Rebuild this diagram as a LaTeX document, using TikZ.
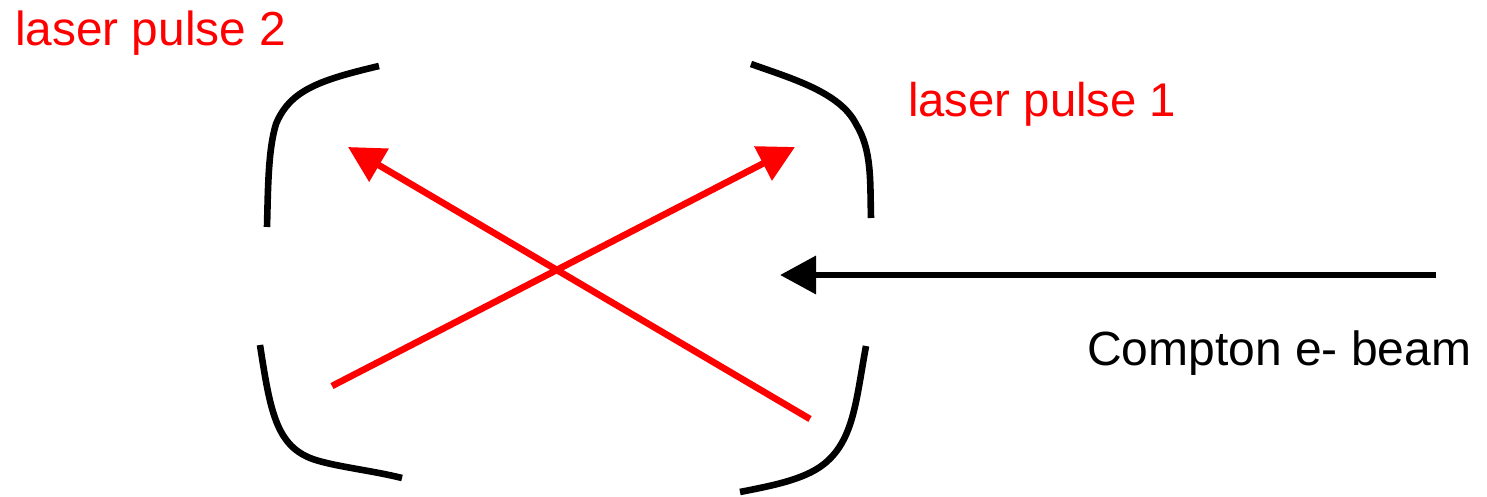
\documentclass[tikz,border=0pt]{standalone}
\usepackage{fontspec}
\setmainfont{Liberation Sans}
\usetikzlibrary{arrows.meta,calc}
\usepackage{xcolor}
\tikzset{
  mirror/.style={line width=3.3mm,black},
  pulse/.style={line width=3.3mm,red,-{Triangle[length=18mm,width=18.5mm]}},
  beam/.style={line width=3.3mm,black,-{Triangle[length=18mm,width=18.5mm]}},
  pulselabel/.style={font=\fontsize{68}{68}\selectfont,text=red,anchor=base west,inner sep=0pt},
  beamlabel/.style={font=\fontsize{68.3}{68}\selectfont,anchor=base west,inner sep=0pt}
}
\begin{document}
\begin{tikzpicture}[x=1mm,y=-1mm]
  % 1 px = 0.5 mm
  \useasboundingbox (0,0) rectangle (743.5,248);
  \node[pulselabel] (labeltwo) at (7.5,22.5){laser pulse 2};
  \node[pulselabel,font=\fontsize{67.3}{68}\selectfont] (labelone) at (454,58){laser pulse 1};
  \node[beamlabel] (labelbeam) at (543.5,182.5){Compton e- beam};
  % mirrors
  \draw[mirror] (189.5,33) .. controls (160,40) and (145,45) .. (138,62) .. controls (134,75) and (134,95) .. (133.5,113.5);
  \draw[mirror] (375.5,32) .. controls (395,39) and (420,46) .. (428,62) .. controls (436,75) and (435,90) .. (435.5,109);
  \draw[mirror] (130,172.5) .. controls (135,205) and (138,222) .. (155,229) .. controls (165,233) and (185,235) .. (201,239);
  \draw[mirror] (433,173) .. controls (428,200) and (427,220) .. (412,232) .. controls (402,240) and (385,243) .. (370,246);
  % pulses and beam
  \coordinate (pulseonestart) at (166,193);
  \coordinate (pulseoneend) at (397.5,73.5);
  \coordinate (pulsetwostart) at (405,209.5);
  \coordinate (pulsetwoend) at (174,73.5);
  \coordinate (beamstart) at (718,137.5);
  \coordinate (beamend) at (390,137.5);
  \draw[pulse] (pulseonestart) -- (pulseoneend);
  \draw[pulse] (pulsetwostart) -- (pulsetwoend);
  \draw[beam] (beamstart) -- (beamend);
\end{tikzpicture}
\end{document}
